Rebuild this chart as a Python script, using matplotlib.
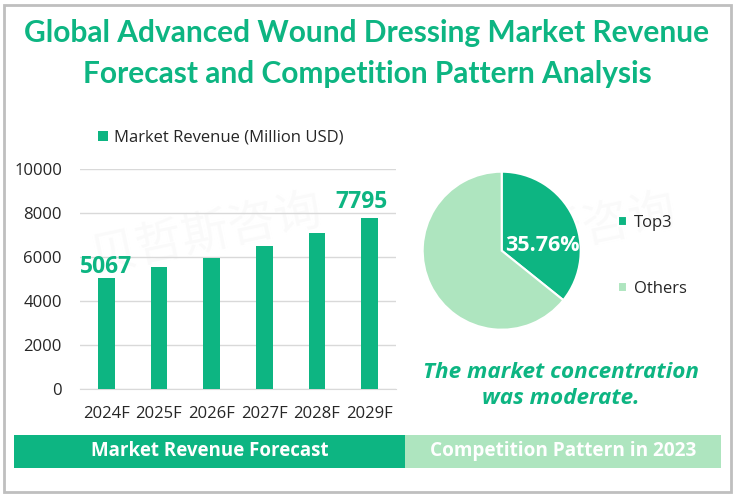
import matplotlib.pyplot as plt
from matplotlib.patches import Rectangle

plt.rcParams["font.family"] = ["Open Sans", "DejaVu Sans"]

GREEN = "#0db582"
LIGHT = "#aee5bf"
W, H = 734, 497

years = ["2024F", "2025F", "2026F", "2027F", "2028F", "2029F"]
revenue = [5067, 5560, 5970, 6515, 7106, 7795]
y_ticks = [0, 2000, 4000, 6000, 8000, 10000]
labelled = {0: ("5067", 0, -0.5), 5: ("7795", -6, 3)}

pie_labels = ["Top3", "Others"]
pie_shares = [35.76, 64.24]

watermark = "贝哲斯咨询"
watermark_spots = [(206, 235), (560, 235)]


def px_axes(fig, left, top, right, bottom):
    # axes placed in pixel coordinates of the reference, y measured from the top
    return fig.add_axes([left / W, 1 - bottom / H, (right - left) / W, (bottom - top) / H])


fig = plt.figure(figsize=(W / 100, H / 100), dpi=100, facecolor="white")

# faint watermark behind everything
for x, y in watermark_spots:
    fig.text(x / W, 1 - y / H, watermark, color="#fafafa", fontsize=34, rotation=12,
             family=["Noto Sans CJK SC", "DejaVu Sans"], ha="center", va="center", zorder=-5)

# outer frame and the two bands at the bottom
fig.add_artist(Rectangle((3.5 / W, 1 - 491.5 / H), 727 / W, 487 / H, transform=fig.transFigure,
                         facecolor="none", edgecolor="#bfbfbf", linewidth=2))
fig.add_artist(Rectangle((14 / W, 1 - 467.5 / H), 391 / W, 32.5 / H, transform=fig.transFigure,
                         facecolor=GREEN, edgecolor="none"))
fig.add_artist(Rectangle((405 / W, 1 - 467.5 / H), 316 / W, 32.5 / H, transform=fig.transFigure,
                         facecolor=LIGHT, edgecolor="none"))

fig.text(367 / W, 1 - 33 / H, "Global Advanced Wound Dressing Market Revenue", color=GREEN,
         fontsize=21.5, fontweight="bold", family="Lato", ha="center", va="center")
fig.text(367 / W, 1 - 74 / H, "Forecast and Competition Pattern Analysis", color=GREEN,
         fontsize=21.5, fontweight="bold", family="Lato", ha="center", va="center")
fig.text(210 / W, 1 - 451 / H, "Market Revenue Forecast", color="white",
         fontsize=13.5, fontweight="bold", ha="center", va="center")
fig.text(563 / W, 1 - 451 / H, "Competition Pattern in 2023", color="white",
         fontsize=13.7, fontweight="bold", ha="center", va="center")
fig.text(561 / W, 1 - 373 / H, "The market concentration", color=GREEN,
         fontsize=16.2, fontweight="bold", style="italic", ha="center", va="center")
fig.text(561 / W, 1 - 398 / H, "was moderate.", color=GREEN,
         fontsize=16.2, fontweight="bold", style="italic", ha="center", va="center")

# bar chart
ax = px_axes(fig, 80, 169.3, 396, 389.3)
ax.patch.set_alpha(0)
bars = ax.bar(years, revenue, width=0.32, color=GREEN, label="Market Revenue (Million USD)", zorder=3)
ax.set_xlim(-0.5, 5.5)
ax.set_ylim(0, 10000)
ax.set_yticks(y_ticks)
ax.grid(axis="y", color="#d9d9d9", linewidth=1, zorder=0)
ax.tick_params(length=0, labelsize=12, labelcolor="#262626")
ax.tick_params(axis="x", pad=12)
ax.tick_params(axis="y", pad=13)
for s in ["top", "left", "right"]:
    ax.spines[s].set_visible(False)
ax.spines["bottom"].set_color("#d9d9d9")
for i, (txt, dx, dy) in labelled.items():
    ax.annotate(txt, (i, revenue[i]), xytext=(dx, dy), textcoords="offset points", ha="center",
                va="bottom", color=GREEN, fontsize=16.5, fontweight="bold")
ax.legend(loc="center", bbox_to_anchor=(221 / W, 1 - 138 / H), bbox_transform=fig.transFigure,
          frameon=False, fontsize=12, handlelength=0.55, handleheight=0.55, handletextpad=0.4,
          labelcolor="#262626")

# pie chart
ax_pie = px_axes(fig, 422.7, 171.7, 580.7, 329.7)
ax_pie.patch.set_alpha(0)
wedges, _ = ax_pie.pie(pie_shares, colors=[GREEN, LIGHT], startangle=90, counterclock=False,
                       radius=1.0, wedgeprops={"edgecolor": "white", "linewidth": 1.5})
ax_pie.set_xlim(-1, 1)
ax_pie.set_ylim(-1, 1)
ax_pie.text(0.51, 0.07, f"{pie_shares[0]:.2f}%", color="white", fontsize=15.5, fontweight="bold",
            ha="center", va="center", clip_on=False)
fig.legend(wedges, pie_labels, loc="center left", bbox_to_anchor=(603 / W, 1 - 256 / H),
           frameon=False, fontsize=12, handlelength=0.55, handleheight=0.55, handletextpad=0.4,
           labelspacing=3.0, labelcolor="#262626")

fig.savefig("out.png", dpi=100)
